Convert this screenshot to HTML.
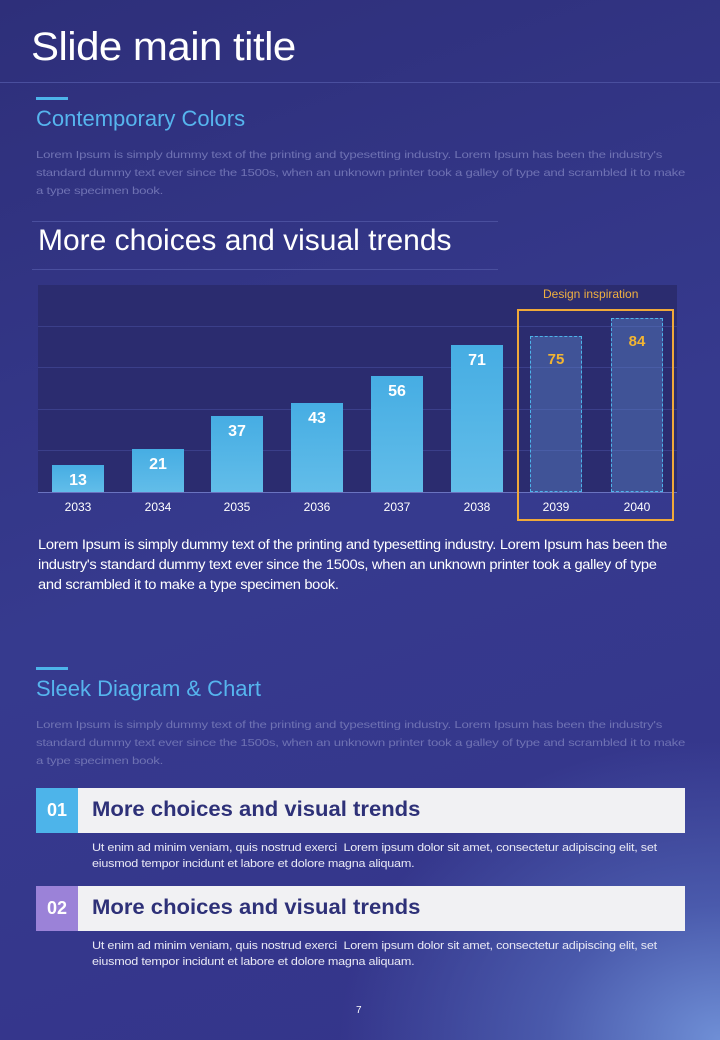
<!DOCTYPE html>
<html><head><meta charset="utf-8"><style>
*{margin:0;padding:0;box-sizing:border-box}
body{width:720px;height:1040px;overflow:hidden;font-family:"Liberation Sans",sans-serif;position:relative;
background:radial-gradient(ellipse 380px 300px at 720px 1040px,#6f8fd6 0%,#4a5aac 45%,rgba(60,60,150,0) 100%),linear-gradient(160deg,#2e2f7a 0%,#363a8e 50%,#34348a 100%);}
.a{position:absolute;white-space:nowrap}
.t{color:#fff;font-size:40px;left:31px;top:25px;letter-spacing:-0.5px;transform:scaleX(1.05);transform-origin:0 0}
.hl{left:0;top:82px;width:720px;height:1px;background:#4a4f9e}
.acc{width:32px;height:3px;background:#4db4ea}
.h2{color:#56b5ee;font-size:22px}
.p{color:#6f72b3;font-size:10.5px;line-height:18px;letter-spacing:-0.2px;transform:scaleX(1.26);transform-origin:0 0}
.rule{height:1px;background:#4a4f9e}
.bar{position:absolute;width:52px;background:linear-gradient(#46ade3,#62bde9);color:#fff;font-weight:bold;font-size:16px;text-align:center;padding-top:7px}
.dbar{position:absolute;width:52px;background:rgba(90,130,200,.45);border:1px dashed #4db4ea;color:#f2b532;font-weight:bold;font-size:15px;text-align:center;padding-top:14px}
.yr{position:absolute;top:500px;width:80px;text-align:center;color:#fff;font-size:12px}
.g{position:absolute;left:38px;width:639px;height:1px;background:#3b3f8a}
.box{left:36px;width:649px;height:45px;background:#f1f1f3}
.num{width:42px;height:45px;color:#fff;font-weight:bold;font-size:18px;text-align:center;line-height:45px}
.bt{left:92px;color:#2e3178;font-weight:bold;font-size:21px;transform:scaleX(1.05);transform-origin:0 0}
.sm{left:92px;color:#e8e8f4;font-size:11px;line-height:16px;letter-spacing:-0.2px;transform:scaleX(1.146);transform-origin:0 0}
</style></head><body>
<div class="a t">Slide main title</div>
<div class="a hl"></div>
<div class="a acc" style="left:36px;top:97px"></div>
<div class="a h2" style="left:36px;top:106px">Contemporary Colors</div>
<div class="a p" style="left:36px;top:146px">Lorem Ipsum is simply dummy text of the printing and typesetting industry. Lorem Ipsum has been the industry's<br>standard dummy text ever since the 1500s, when an unknown printer took a galley of type and scrambled it to make<br>a type specimen book.</div>
<div class="a rule" style="left:32px;top:221px;width:466px"></div>
<div class="a" style="left:38px;top:224px;color:#fff;font-size:30px">More choices and visual trends</div>
<div class="a rule" style="left:32px;top:269px;width:466px"></div>
<div class="a" style="left:38px;top:285px;width:639px;height:208px;background:#2b2c6f"></div>
<div class="g" style="top:326px"></div><div class="g" style="top:367px"></div><div class="g" style="top:409px"></div><div class="g" style="top:450px"></div>
<div class="a" style="left:38px;top:492px;width:639px;height:1px;background:#6a73c0"></div>
<div class="bar" style="left:52px;top:465px;height:27px">13</div>
<div class="bar" style="left:132px;top:449px;height:43px">21</div>
<div class="bar" style="left:211px;top:416px;height:76px">37</div>
<div class="bar" style="left:291px;top:403px;height:89px">43</div>
<div class="bar" style="left:371px;top:376px;height:116px">56</div>
<div class="bar" style="left:451px;top:345px;height:147px">71</div>
<div class="dbar" style="left:530px;top:336px;height:156px">75</div>
<div class="dbar" style="left:611px;top:318px;height:174px">84</div>
<div class="a" style="left:517px;top:309px;width:157px;height:212px;border:2px solid #f0a93a"></div>
<div class="a" style="left:543px;top:287px;color:#f0b040;font-size:12px">Design inspiration</div>
<div class="yr" style="left:38px">2033</div><div class="yr" style="left:118px">2034</div><div class="yr" style="left:197px">2035</div><div class="yr" style="left:277px">2036</div><div class="yr" style="left:357px">2037</div><div class="yr" style="left:437px">2038</div><div class="yr" style="left:516px">2039</div><div class="yr" style="left:597px">2040</div>
<div class="a" style="left:38px;top:535px;color:#fff;font-size:13.5px;line-height:20px;letter-spacing:-0.3px;transform:scaleX(1.09);transform-origin:0 0">Lorem Ipsum is simply dummy text of the printing and typesetting industry. Lorem Ipsum has been the<br>industry's standard dummy text ever since the 1500s, when an unknown printer took a galley of type<br>and scrambled it to make a type specimen book.</div>
<div class="a acc" style="left:36px;top:667px"></div>
<div class="a h2" style="left:36px;top:676px">Sleek Diagram &amp; Chart</div>
<div class="a p" style="left:36px;top:716px">Lorem Ipsum is simply dummy text of the printing and typesetting industry. Lorem Ipsum has been the industry's<br>standard dummy text ever since the 1500s, when an unknown printer took a galley of type and scrambled it to make<br>a type specimen book.</div>
<div class="a box" style="top:788px"></div><div class="a num" style="left:36px;top:788px;background:#4db4ea">01</div>
<div class="a bt" style="top:798px">More choices and visual trends</div>
<div class="a sm" style="top:840px">Ut enim ad minim veniam, quis nostrud exerci&nbsp; Lorem ipsum dolor sit amet, consectetur adipiscing elit, set<br>eiusmod tempor incidunt et labore et dolore magna aliquam.</div>
<div class="a box" style="top:886px"></div><div class="a num" style="left:36px;top:886px;background:#9b82d8">02</div>
<div class="a bt" style="top:896px">More choices and visual trends</div>
<div class="a sm" style="top:938px">Ut enim ad minim veniam, quis nostrud exerci&nbsp; Lorem ipsum dolor sit amet, consectetur adipiscing elit, set<br>eiusmod tempor incidunt et labore et dolore magna aliquam.</div>
<div class="a" style="left:356px;top:1005px;color:#fff;font-size:10px">7</div>
</body></html>
